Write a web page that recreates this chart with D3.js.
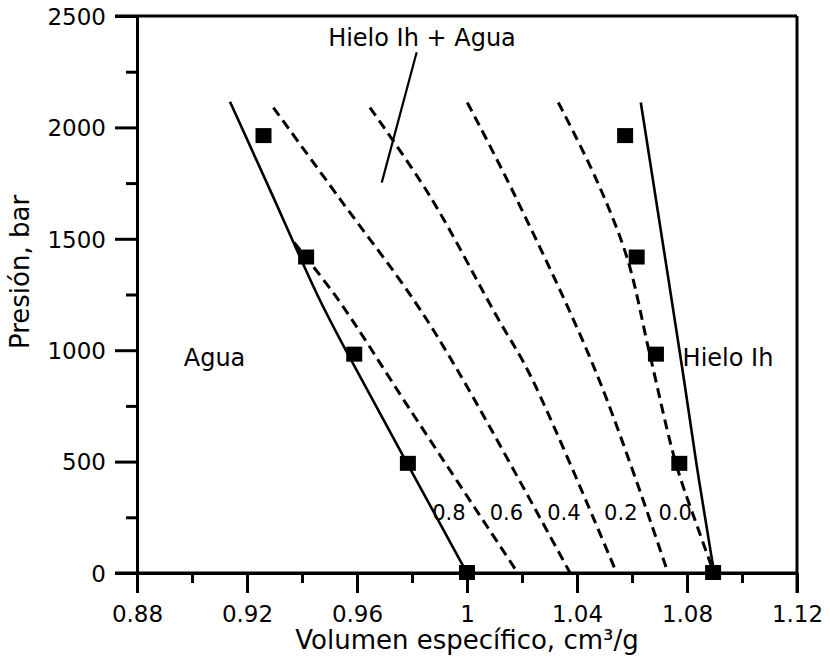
<!DOCTYPE html>
<html>
<head>
<meta charset="utf-8">
<script src="https://cdn.jsdelivr.net/npm/d3@7"></script>
<style>
  body { margin: 0; background: #fff; }
  text { font-family: "DejaVu Sans", sans-serif; fill: #000; }
</style>
</head>
<body>
<div id="chart"></div>
<script>
// volumen especifico (cm3/g) vs presion (bar)
const waterLine = [[0.9138, 2115], [0.9296, 1690], [0.9459, 1228], [0.9568, 980], [0.9783, 490], [1.0, 0]];
const iceLine = [[1.0632, 2112], [1.0744, 1228], [1.0787, 890], [1.0833, 489], [1.0899, 0]];

const waterPoints = [[0.926, 1961], [0.9415, 1416], [0.959, 980], [0.9785, 490], [1.0, 0]];
const icePoints = [[1.0575, 1961], [1.0617, 1416], [1.0687, 980], [1.0772, 490], [1.0895, 0]];

const curve08 = [[0.9371, 1484], [0.9531, 1228], [0.9793, 733], [1.0185, 0]];
const curve06 = [[0.9296, 2089], [0.9539, 1677], [0.9805, 1228], [0.9975, 890], [1.0375, 0]];
const curve04 = [[0.9647, 2089], [0.9865, 1692], [1.0108, 1152], [1.0229, 890], [1.0544, 0]];
const curve02 = [[1.0001, 2112], [1.0175, 1692], [1.0473, 890], [1.0731, 0]];
const curve00 = [[1.0332, 2112], [1.0470, 1767], [1.0582, 1415], [1.0665, 980], [1.0760, 490], [1.0840, 200], [1.0898, 0]];

const curveLabels = ["0.8", "0.6", "0.4", "0.2", "0.0"];
const curveLabelX = [0.9995, 1.0204, 1.0413, 1.0620, 1.0818];

const xTicks = [0.88, 0.90, 0.92, 0.94, 0.96, 0.98, 1.0, 1.02, 1.04, 1.06, 1.08, 1.10, 1.12];
const xTickLabels = ["0.88", "", "0.92", "", "0.96", "", "1", "", "1.04", "", "1.08", "", "1.12"];
const yTicks = [0, 250, 500, 750, 1000, 1250, 1500, 1750, 2000, 2250, 2500];

const width = 830, height = 659;
const x = d3.scaleLinear().domain([0.88, 1.12]).range([137, 797]);
const y = d3.scaleLinear().domain([0, 2500]).range([573, 16]);

const svg = d3.select("#chart").append("svg")
  .attr("width", width)
  .attr("height", height);

// ejes
const yAxis = svg.append("g")
  .attr("transform", "translate(" + x(0.88) + ",0)")
  .call(d3.axisLeft(y).tickValues(yTicks).tickSizeOuter(0)
    .tickFormat(d => d % 500 === 0 ? d : ""));
yAxis.selectAll(".tick line")
  .attr("x2", d => d % 500 === 0 ? -22 : -11)
  .attr("stroke-width", 3);
yAxis.selectAll(".tick text")
  .attr("x", -31).attr("dy", "0.36em")
  .style("font-size", "23px");
yAxis.select(".domain").attr("stroke-width", 3);

const xAxis = svg.append("g")
  .attr("transform", "translate(0," + y(0) + ")")
  .call(d3.axisBottom(x).tickValues(xTicks).tickSizeOuter(0)
    .tickFormat((d, i) => xTickLabels[i]));
xAxis.selectAll(".tick line")
  .attr("y2", (d, i) => xTickLabels[i] ? 20 : 10)
  .attr("stroke-width", 3);
xAxis.selectAll(".tick text")
  .attr("y", 33).attr("dy", "0.71em")
  .style("font-size", "23px");
xAxis.select(".domain").attr("stroke-width", 3);

svg.selectAll("text").attr("fill", "#000");

// linea del 0 y del 2500 hacia la izquierda, marco superior y derecho
svg.append("line")
  .attr("x1", x(0.88) - 22).attr("x2", x(1.12))
  .attr("y1", y(0)).attr("y2", y(0))
  .attr("stroke", "#000").attr("stroke-width", 3);
svg.append("line")
  .attr("x1", x(0.88) - 22).attr("x2", x(1.12))
  .attr("y1", y(2500)).attr("y2", y(2500))
  .attr("stroke", "#000").attr("stroke-width", 3);
svg.append("line")
  .attr("x1", x(1.12)).attr("x2", x(1.12))
  .attr("y1", y(2500)).attr("y2", y(0) + 20)
  .attr("stroke", "#000").attr("stroke-width", 3);

// curvas
const line = d3.line()
  .x(d => x(d[0]))
  .y(d => y(d[1]))
  .curve(d3.curveCatmullRom.alpha(0.5));

const smoothLine = d3.line()
  .x(d => x(d[0]))
  .y(d => y(d[1]))
  .curve(d3.curveBasis);

[waterLine, iceLine].forEach(function(data) {
  svg.append("path")
    .attr("d", smoothLine(data))
    .attr("fill", "none")
    .attr("stroke", "#000")
    .attr("stroke-width", 2.6);
});

[curve08, curve06, curve04, curve02, curve00].forEach(function(data) {
  svg.append("path")
    .attr("d", line(data))
    .attr("fill", "none")
    .attr("stroke", "#000")
    .attr("stroke-width", 3)
    .attr("stroke-dasharray", "10,6");
});

// puntos experimentales
const sq = 16;
svg.selectAll(".pt")
  .data(waterPoints.concat(icePoints))
  .enter().append("rect")
  .attr("class", "pt")
  .attr("x", d => x(d[0]) - sq / 2)
  .attr("y", d => y(d[1]) - sq / 2)
  .attr("width", sq)
  .attr("height", sq - 1)
  .attr("fill", "#000");

// etiquetas de las curvas
svg.selectAll(".clab")
  .data(curveLabels)
  .enter().append("text")
  .attr("class", "clab")
  .attr("x", (d, i) => x(curveLabelX[i]))
  .attr("y", y(236))
  .attr("text-anchor", "end")
  .style("font-size", "21px")
  .text(d => d);

// anotaciones
svg.append("text")
  .attr("x", x(0.8970)).attr("y", y(930))
  .style("font-size", "24px")
  .text("Agua");
svg.append("text")
  .attr("x", x(1.0784)).attr("y", y(930))
  .style("font-size", "24px")
  .text("Hielo Ih");
svg.append("text")
  .attr("x", x(0.9495)).attr("y", y(2366))
  .style("font-size", "24px")
  .text("Hielo Ih + Agua");
svg.append("line")
  .attr("x1", x(0.9817)).attr("y1", y(2337))
  .attr("x2", x(0.9690)).attr("y2", y(1752))
  .attr("stroke", "#000").attr("stroke-width", 2.2);

// titulos
svg.append("text")
  .attr("x", x(1.0)).attr("y", 649)
  .attr("text-anchor", "middle")
  .style("font-size", "26px")
  .text("Volumen específico, cm³/g");
svg.append("text")
  .attr("transform", "translate(29,272) rotate(-90)")
  .attr("text-anchor", "middle")
  .style("font-size", "26px")
  .text("Presión, bar");
</script>
</body>
</html>
